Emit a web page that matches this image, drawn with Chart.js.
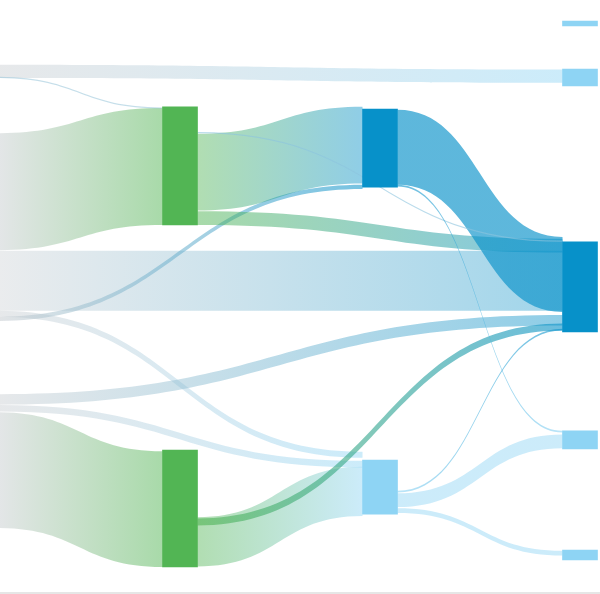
<!DOCTYPE html>
<html>
<head>
<meta charset="utf-8">
<script src="https://cdn.jsdelivr.net/npm/chart.js"></script>
<style>
  html, body { margin: 0; padding: 0; background: #fff; }
  #wrap { width: 600px; height: 594px; position: relative; }
</style>
</head>
<body>
<div id="wrap"><canvas id="sankey"></canvas></div>
<script>
// nodes: column index and the span each one covers on the (hidden) value axis
const nodeNames  = ["A", "B", "C", "D", "E", "G1", "G2", "M1", "M2", "T1", "T2", "T3", "T4", "T5"];
const nodeColumn = [0, 0, 0, 0, 0, 1, 1, 2, 2, 3, 3, 3, 3, 3];
const nodeTop    = [10.8, 22.2, 41.8, 65.7, 68.7, 17.8, 75.0, 18.2, 76.7, 3.5, 11.5, 40.3, 71.8, 91.7];
const nodeBottom = [13.2, 41.7, 53.7, 68.5, 87.8, 37.5, 94.5, 31.2, 85.7, 4.3, 14.3, 55.3, 74.8, 93.3];

// links: from -> to, flow value, and where it leaves / enters on the value axis
const linkFrom    = ["A", "A", "B", "C", "C", "C", "D", "D", "E", "G1", "G1", "G1", "G2", "G2", "M1", "M1", "M2", "M2", "M2"];
const linkTo      = ["T2", "G1", "G1", "T3", "M2", "M1", "T3", "M2", "G2", "T3", "M1", "T3", "T3", "M2", "T3", "T4", "T3", "T4", "T5"];
const linkValue   = [2.2, 0.2, 19.5, 10.0, 1.0, 0.7, 1.75, 1.1, 19.3, 0.2, 12.8, 2.3, 1.2, 8.2, 12.5, 0.3, 0.3, 2.3, 0.8];
const linkFromTop = [10.8, 12.8, 22.2, 41.8, 51.8, 52.8, 65.7, 67.5, 68.7, 22.0, 22.3, 35.2, 86.4, 86.2, 18.3, 30.8, 81.8, 82.2, 84.7];
const linkToTop   = [11.6, 17.9, 18.0, 41.8, 75.3, 30.8, 52.5, 76.8, 75.2, 40.1, 17.8, 39.8, 53.9, 77.8, 39.5, 71.8, 54.8, 72.4, 91.8];

// styles
const nodeColor = ["#c9cdd1", "#c9cdd1", "#c9cdd1", "#c9cdd1", "#c9cdd1",
                   "#52b554", "#52b554", "#0791c9", "#8ed4f4",
                   "#8ed4f4", "#8ed4f4", "#0791c9", "#8ed4f4", "#8ed4f4"];
const linkAlpha = [0.45, 0.6, 0.5, 0.38, 0.45, 0.55, 0.45, 0.45, 0.5, 0.6, 0.45, 0.5, 0.6, 0.45, 0.65, 0.6, 0.6, 0.45, 0.45];
// fixed colour for the hairline links (null = gradient between the two nodes)
const linkTint  = [null, "#9fc9dc", null, null, null, null, null, null, null, "#8cc4de", null, null, null, null, null, null, null, null, null];
// thin links go on top
const drawOrder = [0, 2, 3, 4, 5, 6, 7, 8, 10, 13, 12, 11, 14, 17, 18, 1, 9, 15, 16];

function rgba(hex, a) {
    const n = parseInt(hex.slice(1), 16);
    return `rgba(${(n >> 16) & 255},${(n >> 8) & 255},${n & 255},${a})`;
}

const sankeyLinks = {
    id: 'sankeyLinks',
    beforeDatasetsDraw(chart) {
        const {ctx, scales: {y}} = chart;
        const bars = chart.getDatasetMeta(0).data;
        ctx.save();
        drawOrder.forEach(i => {
            const s = nodeNames.indexOf(linkFrom[i]);
            const t = nodeNames.indexOf(linkTo[i]);
            const x0 = bars[s].x + bars[s].width / 2;
            const x1 = bars[t].x - bars[t].width / 2;
            const y0t = y.getPixelForValue(linkFromTop[i]);
            const y0b = y.getPixelForValue(linkFromTop[i] + linkValue[i]);
            const y1t = y.getPixelForValue(linkToTop[i]);
            const y1b = y.getPixelForValue(linkToTop[i] + linkValue[i]);
            const xm = (x0 + x1) / 2;
            const grad = ctx.createLinearGradient(x0, 0, x1, 0);
            grad.addColorStop(0, rgba(linkTint[i] || nodeColor[s], linkAlpha[i]));
            grad.addColorStop(1, rgba(linkTint[i] || nodeColor[t], linkAlpha[i]));
            ctx.beginPath();
            ctx.moveTo(x0, y0t);
            ctx.bezierCurveTo(xm, y0t, xm, y1t, x1, y1t);
            ctx.lineTo(x1, y1b);
            ctx.bezierCurveTo(xm, y1b, xm, y0b, x0, y0b);
            ctx.closePath();
            ctx.fillStyle = grad;
            ctx.fill();
        });
        ctx.restore();
    },
    afterDraw(chart) {
        // faint frame line along the bottom
        const {ctx, chartArea: {left, right, bottom}} = chart;
        ctx.save();
        ctx.strokeStyle = "#e6e6e6";
        ctx.lineWidth = 2;
        ctx.beginPath();
        ctx.moveTo(left, bottom - 1);
        ctx.lineTo(right, bottom - 1);
        ctx.stroke();
        ctx.restore();
    }
};

new Chart(document.getElementById("sankey"), {
    type: 'bar',
    data: {
        datasets: [{
            label: 'nodes',
            data: nodeNames.map((n, i) => ({x: nodeColumn[i], y: [nodeTop[i], nodeBottom[i]]})),
            backgroundColor: nodeColor,
            borderWidth: 0,
            barThickness: 35
        }]
    },
    options: {
        responsive: true,
        maintainAspectRatio: false,
        animation: false,
        layout: { padding: 0 },
        scales: {
            x: { type: 'linear', min: 0.1, max: 3.1, offset: false, bounds: 'data', display: false },
            y: { type: 'linear', min: 0, max: 99, reverse: true, bounds: 'data', display: false }
        },
        plugins: {
            legend: { display: false },
            tooltip: { enabled: false }
        }
    },
    plugins: [sankeyLinks]
});
</script>
</body>
</html>
